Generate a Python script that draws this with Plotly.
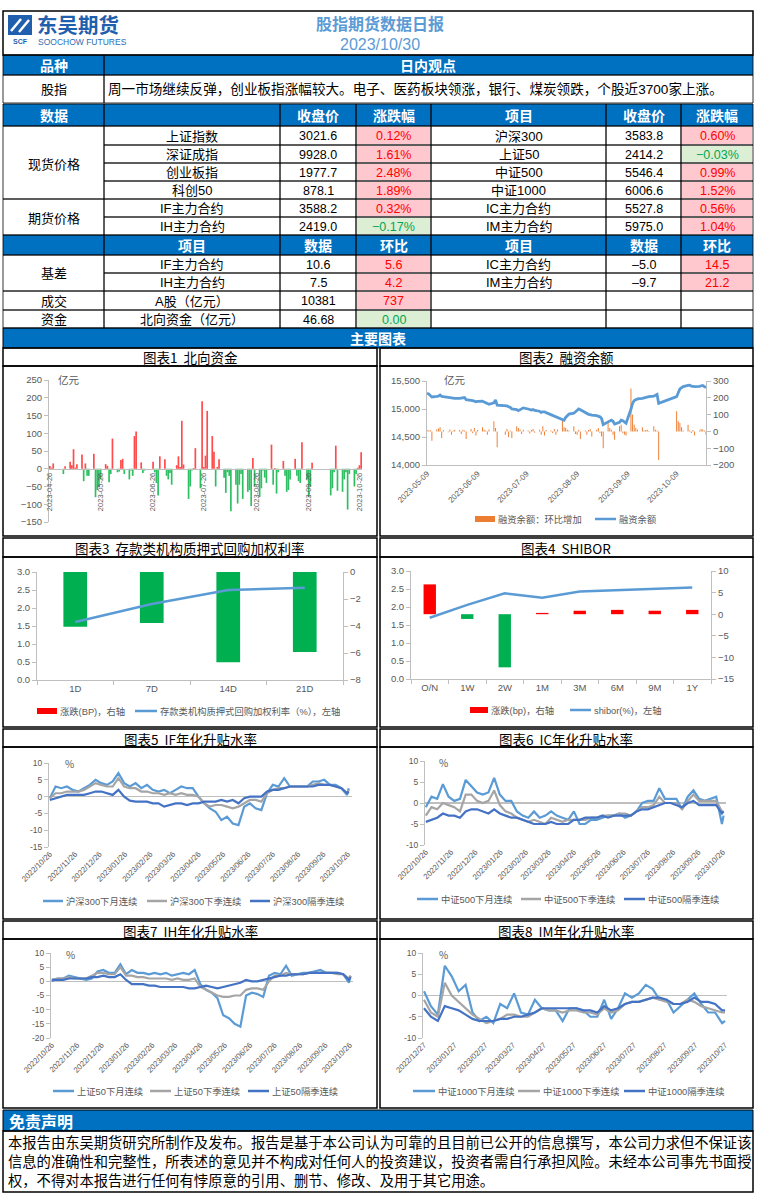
import plotly.graph_objects as go
import pandas as pd

# ======================= DATA =======================
report_title = "股指期货数据日报"
report_date = "2023/10/30"
company_cn = "东吴期货"
company_en = "SOOCHOW FUTURES"
view_label = "股指"
view_text = "周一市场继续反弹，创业板指涨幅较大。电子、医药板块领涨，银行、煤炭领跌，个股近3700家上涨。"

hdr1_labels = ["数据", "", "收盘价", "涨跌幅", "项目", "收盘价", "涨跌幅"]
hdr2_labels = ["", "项目", "数据", "环比", "项目", "数据", "环比"]

price_groups = ["现货价格", "期货价格"]
price_left_names = ["上证指数", "深证成指", "创业板指", "科创50", "IF主力合约", "IH主力合约"]
price_left_close = ["3021.6", "9928.0", "1977.7", "878.1", "3588.2", "2419.0"]
price_left_chg = ["0.12%", "1.61%", "2.48%", "1.89%", "0.32%", "−0.17%"]
price_right_names = ["沪深300", "上证50", "中证500", "中证1000", "IC主力合约", "IM主力合约"]
price_right_close = ["3583.8", "2414.2", "5546.4", "6006.6", "5527.8", "5975.0"]
price_right_chg = ["0.60%", "−0.03%", "0.99%", "1.52%", "0.56%", "1.04%"]

basis_group = "基差"
basis_left_names = ["IF主力合约", "IH主力合约"]
basis_left_val = ["10.6", "7.5"]
basis_left_chg = ["5.6", "4.2"]
basis_right_names = ["IC主力合约", "IM主力合约"]
basis_right_val = ["–5.0", "–9.7"]
basis_right_chg = ["14.5", "21.2"]

misc_groups = ["成交", "资金"]
misc_names = ["A股（亿元）", "北向资金（亿元）"]
misc_val = ["10381", "46.68"]
misc_chg = ["737", "0.00"]

chart_titles = ["图表1  北向资金", "图表2  融资余额", "图表3  存款类机构质押式回购加权利率", "图表4  SHIBOR",
                "图表5  IF年化升贴水率", "图表6  IC年化升贴水率", "图表7  IH年化升贴水率", "图表8  IM年化升贴水率"]

# Chart 1: northbound flow (亿元), one value per business day 2023-04-26 .. 2023-10-27 (None = closed)
nb_flow = [
    8, 3, 15,
    None, None, None, -15, 7,
    20, 10, 55, 3, 13,
    40, -35, 15, -20, -20,
    42, -80, -60, -50, -30,
    13, 8, -38, -15, 85,
    -10, -8, 25, 28, -15,
    -30, -5, -20, 92, 105,
    18, -12, -5, None, None,
    20, -10, -40, -75, 35,
    27, -20, -30, -12, -45,
    10, 35, 5, 135, 12,
    -85, -50, -5, 2, 58,
    -55, 190, 5, 37, 163,
    92, 48, -50, 5, 27,
    -25, -68, -10, -20, -120,
    -45, -98, -45, -15, -85,
    -65, -60, -105, 30, -50,
    -80, -55, -5, -25, -40,
    68, -45, 2, -70, -10,
    22, -20, -65, -60, -30,
    28, -20, -35, -40, 75,
    -30, -80, -50, 17, None,
    None, None, None, None, None,
    -75, -55, -10, 65, -62,
    -65, -30, -10, -115, -15,
    -50, -15, 3, 10, 46.68,
]
nb_ticks = ["2023-04-26", "2023-05-26", "2023-06-26", "2023-07-26", "2023-08-26", "2023-09-26", "2023-10-26"]

# Chart 2: margin balance, business days 2023-05-08 .. 2023-10-27
margin_change = [
    None, 10, 5, 8, -55,
    12, 18, 25, -40, 8,
    -5, 12, -20, 5, 10,
    8, -15, 10, 5, -45,
    15, -10, 20, -25, 8,
    25, 10, 5, -20, 12,
    60, 20, -95, None, None,
    -20, 15, -35, 5, -40,
    30, 20, 12, -15, 10,
    5, -12, 8, 15, -8,
    10, -20, 30, -25, 8,
    5, -10, 15, -20, 12,
    65, 25, 20, 10, 5,
    30, -15, -20, 10, -45,
    5, -20, 8, 15, -30,
    10, 20, -10, -30, -100,
    50, 20, 10, -20, -50,
    30, 40, -10, -20, -25,
    255, 100, 40, 20, 10,
    25, 5, 8, 10, 3,
    30, 10, 5, -170, None,
    None, None, None, None, None,
    120, 60, 50, 25, 5,
    40, 5, -10, 8, -25,
    5, 15, 12, 5, -20,
]
margin_balance = [
    None, 15280, 15270, 15240, 15215,
    15225, 15230, 15250, 15225, 15220,
    15205, 15195, 15190, 15195, 15190,
    15190, 15195, 15200, 15205, 15165,
    15160, 15150, 15140, 15130, 15135,
    15140, 15125, 15110, 15095, 15085,
    15110, 15160, 15070, None, None,
    15060, 15055, 15040, 15030, 15000,
    14990, 14970, 14990, 15010, 15020,
    15000, 14990, 14980, 14990, 14975,
    14960, 14940, 14950, 14950, 14935,
    14900, 14880, 14870, 14860, 14845,
    14820, 14800, 14850, 14890, 14910,
    14925, 14950, 14990, 15000, 14985,
    14930, 14910, 14905, 14900, 14890,
    14880, 14865, 14860, 14830, 14720,
    14770, 14790, 14800, 14780, 14730,
    14760, 14800, 14790, 14770, 14745,
    14995, 15100, 15150, 15170, 15180,
    15190, 15200, 15210, 15215, 15220,
    15230, 15240, 15260, 15100, None,
    None, None, None, None, None,
    15220, 15290, 15360, 15380, 15400,
    15420, 15425, 15410, 15400, 15400,
    15405, 15410, 15420, 15400, 15380,
]
margin_ticks = ["2023-05-09", "2023-06-09", "2023-07-09", "2023-08-09", "2023-09-09", "2023-10-09"]
margin_names = ["融资余额：环比增加", "融资余额"]

# Chart 3: repo
repo_terms = ["1D", "7D", "14D", "21D"]
repo_rate = [1.61, 2.11, 2.50, 2.56]
repo_chg_bp = [-4.06, -3.77, -6.68, -5.93]
repo_names = ["涨跌(BP)，右轴", "存款类机构质押式回购加权利率（%），左轴"]

# Chart 4: SHIBOR
shibor_terms = ["O/N", "1W", "2W", "1M", "3M", "6M", "9M", "1Y"]
shibor_rate = [1.70, 2.06, 2.38, 2.26, 2.43, 2.47, 2.52, 2.54]
shibor_chg_bp = [6.9, -1.1, -12.3, 0.3, 0.8, 1.0, 0.8, 1.0]
shibor_names = ["涨跌(bp)，右轴", "shibor(%)，左轴"]

# Charts 5-7: weekly samples from 2022-10-26 (+ 2023-10-27); chart 8 from 2022-12-27
basis_ticks_a = ["2022/10/26", "2022/11/26", "2022/12/26", "2023/01/26", "2023/02/26", "2023/03/26", "2023/04/26",
                 "2023/05/26", "2023/06/26", "2023/07/26", "2023/08/26", "2023/09/26", "2023/10/26"]
basis_ticks_m = ["2022/12/27", "2023/01/27", "2023/02/27", "2023/03/27", "2023/04/27", "2023/05/27", "2023/06/27",
                 "2023/07/27", "2023/08/27", "2023/09/27", "2023/10/27"]

if_names = ["沪深300下月连续", "沪深300下季连续", "沪深300隔季连续"]
if_m = [-0.5, 3, 2.5, 3, 2, 1.5, 2.5, 3.5, 5, 4,
        3.5, 4.5, 7, 4, 3, 4, 2.5, 3.5, 2, 1.5,
        2, 1, 2, 3, 2.5, 2.5, 0, -2, -3.5, -4.5,
        -7, -6, -8, -8.5, -3, -2, -3.5, -4, 1, 3.5,
        3, 5.5, 3, 3, 3, 3, 4.5, 4.5, 5, 3.5,
        3.5, 2.5, 0.5, 2.5]
if_q = [-0.5, 1, 1, 1.5, 1.5, 1.5, 2, 3, 4, 3.5,
        3, 3, 5.5, 3, 2.5, 2.5, 1.5, 1.5, 1, 1,
        0.5, 1, 0.5, 1, 0.5, 0.5, 0, -2, -3, -2.5,
        -2.5, -3, -3.5, -3, -2, -1, -1, -1.5, 1, 2,
        2.5, 2.5, 3, 3, 3, 3, 3.5, 4, 3.5, 3.5,
        3, 2.5, 1, 2]
if_s = [-1, -0.5, 0, 0.5, 0.5, 0.5, 0.5, 1, 1.5, 1.5,
        1, 0.5, 2, 0, -1.2, -1.5, -1.5, -1.5, -2, -2,
        -3, -2.5, -2, -2, -2.5, -2, -2, -1.5, -1.5, -1.5,
        -1, -1.5, -1, -2, -0.5, 0, 0, 0, 1.5, 2,
        2, 2.5, 3, 3, 3, 3, 3, 3.5, 3.5, 3.5,
        3, 2.5, 1, 1.5]

ic_names = ["中证500下月连续", "中证500下季连续", "中证500隔季连续"]
ic_m = [-1, 1.5, 1, 4.5, 1.5, 0.5, 1, 5.5, 4, 2.5,
        2, 2.5, 6, 2, 0.5, 0.5, -2, -3, -3.5, -2,
        -3.5, -3, -2, -3, -3.5, -4, -2, -5, -5, -4,
        -4, -3.5, -3, -3, -2.5, -3.5, -3, -2, 0, 0.5,
        0.5, 3.5, 1, 1, 1, -1.5, 1.5, 3, 1, 0.5,
        1, 1.5, -5, -3]
ic_q = [-3, -1, -1.5, 0, -0.5, -1, -2, 2, 2, 0.5,
        0, 0.5, 3, -0.5, -2, -2.5, -3.5, -4, -4.5, -4,
        -4.5, -5, -3.5, -4, -4.5, -4, -4, -4, -4, -3.5,
        -3.5, -3, -3, -3, -2.5, -2.5, -3, -2, -1, -1,
        -0.5, 1.5, 0, 0, 0, -1.5, 0.5, 2, 0.5, 0.5,
        0.5, 0.5, -2, -2]
ic_s = [-4.5, -4, -3.5, -2.5, -3, -3, -3.5, -2, -1.5, -1.5,
        -2, -2.5, -1.5, -2.5, -3, -3.5, -3.5, -4, -4.5, -5,
        -5, -5, -4.5, -5, -5, -5, -4, -4, -3.5, -3.5,
        -3.5, -3, -3.5, -3, -3, -3, -3, -2, -1.5, -1.5,
        -1, -0.5, 0, 0, -0.5, -1, 0, 0.5, -0.5, -0.5,
        -0.5, -0.5, -2.5, -2]

ih_names = ["上证50下月连续", "上证50下季连续", "上证50隔季连续"]
ih_m = [0, 1, 1, 2, 1.5, 1, 0.5, 1, 3.5, 4,
        3, 3, 6, 2.5, 4, 3, 3, 2.5, 3, 2.5,
        3, 2, 2.5, 3, 2.5, 4, -1, -3, -4, -6,
        -12, -13, -15, -16, -5, -4, -4.5, -5.5, 2, 3,
        2.5, 5.5, 2, 2.5, 3, 3, 3.5, 4, 3, 3,
        3, 2.5, -0.5, 2]
ih_q = [0.5, 1, 1, 1.5, 1, 1, 1, 2, 3, 3,
        2.5, 2.5, 5, 2, 2, 1.5, 1.5, 1, 1, 1,
        1, 0.5, 1, 0.5, 0.5, 1, -2, -3, -4, -5,
        -5.5, -5.5, -5, -5, -3, -2.5, -2.5, -3, 0, 2,
        2, 3, 2.5, 2.5, 2.5, 3, 3, 3, 3, 3,
        2.5, 2.5, 1, 2]
ih_s = [0.5, 0.5, 0.5, 1, 1, 1, 1, 1.5, 1.5, 2,
        1.5, 1.5, 2.5, 0.5, -1, -1, -1, -1.5, -1.5, -2,
        -2, -2, -2, -2, -2.5, -2.5, -2, -1.5, -2, -2.5,
        -2, -1.5, -1, -0.5, 0.5, 0, 0, 0.5, 1, 1.5,
        2, 2, 2.5, 2.5, 2.5, 3, 3, 3, 3, 3,
        3, 2.5, 0.5, 1.5]

im_names = ["中证1000下月连续", "中证1000下季连续", "中证1000隔季连续"]
im_m = [1, -2.5, -4.5, 7, 4.5, 1, 2.5, -4, -6, -5,
        -6.5, -2, -3, 0.5, -4, -4.5, -1, -3, -3.5, -3.5,
        -6, -3, -3, -3.5, -5, -5, -1, -5.5, -3, 0.5,
        -0.5, 0.5, 2.5, 1.5, -1, -1, -4, -2.5, -1, 0.5,
        -2, -4, -4, -6.5, -6]
im_q = [-1, -4, -5, 3, 0, -1.5, -3, -4.5, -5.5, -6.5,
        -6, -5.5, -4.5, -4.5, -5, -5, -4, -3, -3.5, -3.5,
        -4, -3.5, -3.5, -4, -4, -4.5, -3, -4, -3.5, -2,
        -1.5, -1.5, -1, -0.5, -1, -1.5, -2, -2, -1, -1.5,
        -2.5, -3, -3.5, -4, -4]
im_s = [-3, -5, -6, -2.5, -3, -3.5, -4.5, -5.5, -6, -6,
        -6, -5.5, -5.5, -5, -5, -4.5, -4, -3, -3, -3,
        -3, -3, -3, -3.5, -3.5, -4, -2.5, -3.5, -3, -2,
        -1.5, -1.5, -1, -0.5, -0.5, -1, -2, -2, -1.5, -0.5,
        -1.5, -1.5, -2, -3.5, -3.5]

disclaimer_title = "免责声明"
disclaimer_lines = [
    "本报告由东吴期货研究所制作及发布。报告是基于本公司认为可靠的且目前已公开的信息撰写，本公司力求但不保证该",
    "信息的准确性和完整性，所表述的意见并不构成对任何人的投资建议，投资者需自行承担风险。未经本公司事先书面授",
    "权，不得对本报告进行任何有悖原意的引用、删节、修改、及用于其它用途。",
]

# ======================= HELPERS =======================
W, H = 757, 1195
def X(px): return px / W
def Y(py): return 1 - py / H

CJK = "Noto Sans CJK SC"
LAT = "Liberation Sans, Arial, Noto Sans CJK SC"
NUM = "Liberation Sans Narrow, Liberation Sans, Arial"
HDR_BLUE = "#0070C0"
PINK = "#FFC7CE"
LGREEN = "#DCEFD5"
RED_T = "#FF0000"
GREEN_T = "#00A651"
AXC = "#BFBFBF"
TICKC = "#595959"
C_LB = "#5B9BD5"
C_GR = "#A5A5A5"
C_DB = "#4472C4"
C_OR = "#ED7D31"
BAR_RED = "#FF0000"
BAR_GREEN = "#00B050"

shapes, anns = [], []

def rect(x0, y0, x1, y1, fill=None, lc="black", lw=1.0, layer="below"):
    shapes.append(dict(type="rect", xref="paper", yref="paper", x0=X(x0), x1=X(x1), y0=Y(y1), y1=Y(y0),
                       fillcolor=fill if fill else "rgba(0,0,0,0)",
                       line=dict(color=lc, width=lw), layer=layer))

def seg(x0, y0, x1, y1, color, width):
    shapes.append(dict(type="line", xref="paper", yref="paper", x0=X(x0), x1=X(x1), y0=Y(y0), y1=Y(y1),
                       line=dict(color=color, width=width), layer="above"))

def txt(x, y, s, size=12.5, color="black", family=CJK, xa="center", ya="middle"):
    anns.append(dict(xref="paper", yref="paper", x=X(x), y=Y(y),
                     text=s, showarrow=False, xanchor=xa, yanchor=ya, borderpad=0,
                     font=dict(size=size, color=color, family=family)))

C = [3, 104, 280, 356, 431, 606, 681, 753]
def ctr(i): return (C[i] + C[i + 1]) / 2

def sign_style(s):
    v = float(s.replace("−", "-").replace("–", "-").replace("%", ""))
    return (PINK, RED_T) if v > 0 else (LGREEN, GREEN_T)

def cell(i, y0, y1, s, colored=False, family=NUM, size=12.5):
    tc = "black"
    if colored:
        f, tc = sign_style(s)
        rect(C[i] + 1, y0 + 1, C[i + 1] - 1, y1 - 1, fill=f, lw=0)
    rect(C[i], y0, C[i + 1], y1, lw=0.8, layer="above")
    if s:
        txt(ctr(i), (y0 + y1) / 2 + 0.5, s, size=size, color=tc, family=family)

def blue_row(y0, y1, labels):
    rect(3, y0, 753, y1, fill=HDR_BLUE, lw=0)
    for i in range(7):
        rect(C[i], y0, C[i + 1], y1, lw=0.8, layer="above")
        if labels[i]:
            txt(ctr(i), (y0 + y1) / 2, "<b>" + labels[i] + "</b>", size=14, color="white")

# ======================= HEADER & TABLE =======================
rect(3, 11, 753, 55, lw=1.5, layer="above")
# logo
rect(8, 15, 32, 35, fill="#1F5FAD", lw=0)
seg(11, 31, 21, 19, "white", 2.5)
seg(19, 32, 29, 20, "white", 2.5)
txt(20, 41.5, "<b>SCF</b>", size=7, color="#1F5FAD", family=LAT)
txt(36, 24, "<b>" + company_cn + "</b>", size=20.5, color="#1F5FAD", family=CJK, xa="left")
txt(37, 41.5, company_en, size=8.5, color="#2E6DB4", family=NUM, xa="left")
txt(380, 23, "<b>" + report_title + "</b>", size=16, color="#5B9BD5", family=CJK)
txt(380, 44, report_date, size=16, color="#5B9BD5", family=LAT)

# 品种 / 日内观点
rect(3, 55, 753, 75, fill=HDR_BLUE, lw=0)
rect(3, 55, 104, 75, lw=0.8, layer="above")
rect(104, 55, 753, 75, lw=0.8, layer="above")
txt(53.5, 65, "<b>品种</b>", size=14, color="white")
txt(428, 65, "<b>日内观点</b>", size=14, color="white")
rect(3, 75, 104, 103, lw=0.8, layer="above")
rect(104, 75, 753, 103, lw=0.8, layer="above")
txt(53.5, 89, view_label, size=13)
txt(107, 89, view_text, size=13.6, xa="left", family=LAT)

# price block
blue_row(104, 126, hdr1_labels)
rows_y = [126, 145, 163, 181, 199, 217, 235]
for r in range(6):
    y0, y1 = rows_y[r], rows_y[r + 1]
    cell(1, y0, y1, price_left_names[r], family=LAT, size=13)
    cell(2, y0, y1, price_left_close[r])
    cell(3, y0, y1, price_left_chg[r], colored=True)
    cell(4, y0, y1, price_right_names[r], family=LAT, size=13)
    cell(5, y0, y1, price_right_close[r])
    cell(6, y0, y1, price_right_chg[r], colored=True)
rect(3, 126, 104, 199, lw=0.8, layer="above")
txt(53.5, 163, price_groups[0], size=13)
rect(3, 199, 104, 235, lw=0.8, layer="above")
txt(53.5, 217, price_groups[1], size=13)

# basis block
blue_row(235, 255, hdr2_labels)
brows = [255, 273, 291]
for r in range(2):
    y0, y1 = brows[r], brows[r + 1]
    cell(1, y0, y1, basis_left_names[r], family=LAT, size=13)
    cell(2, y0, y1, basis_left_val[r])
    cell(3, y0, y1, basis_left_chg[r], colored=True)
    cell(4, y0, y1, basis_right_names[r], family=LAT, size=13)
    cell(5, y0, y1, basis_right_val[r])
    cell(6, y0, y1, basis_right_chg[r], colored=True)
rect(3, 255, 104, 291, lw=0.8, layer="above")
txt(53.5, 273, basis_group, size=13)

mrows = [291, 310, 328]
for r in range(2):
    y0, y1 = mrows[r], mrows[r + 1]
    cell(0, y0, y1, misc_groups[r], family=LAT, size=13)
    cell(1, y0, y1, misc_names[r], family=LAT, size=13)
    cell(2, y0, y1, misc_val[r])
    cell(3, y0, y1, misc_chg[r], colored=True)
    cell(4, y0, y1, "")
    cell(5, y0, y1, "")
    cell(6, y0, y1, "")

rect(3, 328, 753, 348, fill=HDR_BLUE, lc="black", lw=1)
txt(378, 338, "<b>主要图表</b>", size=14, color="white")

# chart frames
title_rows = [(348, 366), (538, 557), (729, 747), (921, 939)]
chart_rows = [(366, 536), (557, 727), (747, 919), (939, 1108)]
for k in range(4):
    t0, t1 = title_rows[k]
    c0, c1 = chart_rows[k]
    rect(3, t0, 377, t1, lw=1.5, layer="above")
    rect(380, t0, 753, t1, lw=1.5, layer="above")
    rect(3, c0, 377, c1, lw=1.5, layer="above")
    rect(380, c0, 753, c1, lw=1.5, layer="above")
    txt(190, (t0 + t1) / 2 + 0.5, chart_titles[2 * k], size=13.5)
    txt(566, (t0 + t1) / 2 + 0.5, chart_titles[2 * k + 1], size=13.5)

# disclaimer
rect(3, 1110, 753, 1131, fill=HDR_BLUE, lw=1)
txt(8, 1121, "<b>" + disclaimer_title + "</b>", size=16, color="white", xa="left")
rect(3, 1131, 753, 1192, lw=1.5, layer="above")
for i, line in enumerate(disclaimer_lines):
    txt(7, 1141.5 + 18.8 * i, line, size=14.3, xa="left")

# ======================= CHARTS =======================
fig = go.Figure()
TF = dict(size=9.5, color=TICKC, family=LAT)

def ax(**kw):
    d = dict(showgrid=False, zeroline=False, showline=True, linecolor=AXC, linewidth=1, ticks="outside",
             ticklen=4, tickcolor=AXC, tickfont=TF, fixedrange=True, automargin=False)
    d.update(kw)
    return d

def legend_item(kind, x0, x1, y, color, label):
    if kind == "bar":
        rect(x0, y - 3, x1, y + 3, fill=color, lw=0, layer="above")
    else:
        seg(x0, y, x1, y, color, 2.5)
    txt(x1 + 2, y, label, size=9.3, color=TICKC, family=LAT, xa="left")

layout_axes = {}

# ---- Chart 1: northbound flows ----
nb_dates = pd.bdate_range("2023-04-26", "2023-10-27")
nb_colors = [("#FF4B4B" if (v is not None and v > 0) else "#2FBF63") for v in nb_flow]
fig.add_trace(go.Bar(x=nb_dates, y=nb_flow, marker=dict(color=nb_colors, line=dict(width=0)),
                     width=86400000 * 1.0, xaxis="x", yaxis="y", showlegend=False))
y1_lo, y1_hi = Y(522), Y(380)
zero_pos = y1_lo + (0 - (-150)) / (250 - (-150)) * (y1_hi - y1_lo)
layout_axes["xaxis"] = ax(domain=[X(49), X(362)], type="date", range=["2023-04-25 12:00", "2023-10-27 12:00"],
                          anchor="free", position=zero_pos, ticks="",
                          tickvals=pd.to_datetime(nb_ticks), ticktext=nb_ticks, tickangle=-90,
                          tickfont=dict(size=7.5, color=TICKC, family=LAT))
layout_axes["yaxis"] = ax(domain=[y1_lo, y1_hi], range=[-150, 250], dtick=50, tick0=0, anchor="x")
txt(57, 380, "亿元", size=10.5, color=TICKC, xa="left")

# ---- Chart 2: margin balance ----
mg_dates = pd.bdate_range("2023-05-08", "2023-10-27")
fig.add_trace(go.Bar(x=mg_dates, y=margin_change, marker=dict(color=C_OR, line=dict(width=0)),
                     width=86400000 * 0.6, xaxis="x2", yaxis="y2", showlegend=False))
fig.add_trace(go.Scatter(x=mg_dates, y=margin_balance, mode="lines", line=dict(color=C_LB, width=2.8),
                         connectgaps=True, xaxis="x2", yaxis="y3", showlegend=False))
layout_axes["xaxis2"] = ax(domain=[X(427), X(706)], type="date", range=["2023-05-09", "2023-10-27"], anchor="y2",
                           tickvals=pd.to_datetime(margin_ticks), ticktext=margin_ticks, tickangle=-45, ticks="",
                           tickfont=dict(size=8, color=TICKC, family=LAT))
layout_axes["yaxis2"] = ax(domain=[Y(465), Y(381)], range=[-200, 300], dtick=100, side="right", anchor="x2")
layout_axes["yaxis3"] = ax(range=[14000, 15500], dtick=500, tickformat=",", side="left", anchor="x2",
                           overlaying="y2")
txt(443, 380, "亿元", size=10.5, color=TICKC, xa="left")
legend_item("bar", 475, 495, 519, C_OR, margin_names[0])
legend_item("line", 595, 616, 519, C_LB, margin_names[1])

# ---- Chart 3: repo ----
fig.add_trace(go.Bar(x=repo_terms, y=repo_chg_bp,
                     marker=dict(color=[BAR_RED if v > 0 else BAR_GREEN for v in repo_chg_bp], line=dict(width=0)),
                     width=0.31, xaxis="x3", yaxis="y4", showlegend=False))
fig.add_trace(go.Scatter(x=repo_terms, y=repo_rate, mode="lines", line=dict(color=C_LB, width=2.5),
                         xaxis="x3", yaxis="y5", showlegend=False))
layout_axes["xaxis3"] = ax(domain=[X(37), X(343)], type="category", range=[-0.5, 3.5], anchor="y4",
                           tickson="boundaries", ticklen=4, tickfont=dict(size=9.5, color=TICKC, family=LAT))
layout_axes["yaxis4"] = ax(domain=[Y(680), Y(572)], range=[-8, 0], dtick=2, side="right", anchor="x3")
layout_axes["yaxis5"] = ax(range=[0, 3], dtick=0.5, tickformat=".1f", side="left", anchor="x3", overlaying="y4")
legend_item("bar", 37, 57, 711, BAR_RED, repo_names[0])
legend_item("line", 135, 157, 711, C_LB, repo_names[1])

# ---- Chart 4: SHIBOR ----
fig.add_trace(go.Bar(x=shibor_terms, y=shibor_chg_bp,
                     marker=dict(color=[BAR_RED if v > 0 else BAR_GREEN for v in shibor_chg_bp], line=dict(width=0)),
                     width=0.33, xaxis="x4", yaxis="y6", showlegend=False))
fig.add_trace(go.Scatter(x=shibor_terms, y=shibor_rate, mode="lines", line=dict(color=C_LB, width=2.5),
                         xaxis="x4", yaxis="y7", showlegend=False))
layout_axes["xaxis4"] = ax(domain=[X(411), X(711)], type="category", range=[-0.5, 7.5], anchor="y6",
                           tickson="boundaries", ticklen=4)
layout_axes["yaxis6"] = ax(domain=[Y(679), Y(571)], range=[-15, 10], dtick=5, side="right", anchor="x4")
layout_axes["yaxis7"] = ax(range=[0, 3], dtick=0.5, tickformat=".1f", side="left", anchor="x4", overlaying="y6")
legend_item("bar", 470, 488, 710, BAR_RED, shibor_names[0])
legend_item("line", 570, 591, 710, C_LB, shibor_names[1])

# ---- Charts 5-8: annualized basis ----
ann_dates = list(pd.date_range("2022-10-26", periods=53, freq="7D")) + [pd.Timestamp("2023-10-27")]
im_dates = list(pd.date_range("2022-12-27", periods=44, freq="7D")) + [pd.Timestamp("2023-10-27")]

basis_specs = [
    ("x5", "y8", ann_dates, (if_m, if_q, if_s), if_names, (49, 352), ["2022-10-25", "2023-10-31"], (847, 763),
     (-15, 10), basis_ticks_a, (64, 763), 901, [(43, 63), (147, 167), (250, 270)]),
    ("x6", "y9", ann_dates, (ic_m, ic_q, ic_s), ic_names, (425, 726), ["2022-10-25", "2023-10-30"], (845, 761),
     (-10, 10), basis_ticks_a, (438, 762), 899, [(417, 438), (521, 541), (624, 645)]),
    ("x7", "y10", ann_dates, (ih_m, ih_q, ih_s), ih_names, (51, 353), ["2022-10-25", "2023-10-30"], (1038, 953),
     (-20, 10), basis_ticks_a, (65, 954), 1091, [(53, 74), (150, 171), (248, 269)]),
    ("x8", "y11", im_dates, (im_m, im_q, im_s), im_names, (423, 727), ["2022-12-26", "2023-10-29"], (1038, 953),
     (-10, 10), basis_ticks_m, (438, 954), 1091, [(413, 435), (518, 540), (624, 645)]),
]
colors3 = [C_LB, C_GR, C_DB]
for (xa_, ya_, dts, series, names, xd, xr, yd, yr, ticks, pct, legy, legx) in basis_specs:
    for s, c in zip(series, colors3):
        fig.add_trace(go.Scatter(x=dts, y=s, mode="lines", line=dict(color=c, width=2.2),
                                 xaxis=xa_, yaxis=ya_, showlegend=False))
    yvals = list(range(yr[0], yr[1] + 1, 5))
    layout_axes["xaxis" + xa_[1:]] = ax(domain=[X(xd[0]), X(xd[1])], type="date", range=xr, anchor=ya_,
                                        showline=False, ticks="",
                                        tickvals=pd.to_datetime([t.replace("/", "-") for t in ticks]),
                                        ticktext=ticks, tickangle=-45,
                                        tickfont=dict(size=7.8, color=TICKC, family=LAT))
    layout_axes["yaxis" + ya_[1:]] = ax(domain=[Y(yd[0]), Y(yd[1])], range=list(yr), tickvals=yvals,
                                        ticktext=[str(v) for v in yvals], anchor=xa_,
                                        zeroline=True, zerolinecolor=AXC, zerolinewidth=1.5,
                                        tickfont=dict(size=8.5, color=TICKC, family=LAT))
    txt(pct[0], pct[1], "%", size=10, color=TICKC, xa="left")
    for (lx0, lx1), c, n in zip(legx, colors3, names):
        legend_item("line", lx0, lx1, legy, c, n)

fig.update_layout(
    width=W, height=H, margin=dict(l=0, r=0, t=0, b=0, autoexpand=False),
    paper_bgcolor="white", plot_bgcolor="rgba(0,0,0,0)",
    showlegend=False, shapes=shapes, annotations=anns,
    font=dict(family=LAT, color=TICKC),
    **layout_axes,
)

fig.write_html("out.html", post_script="document.body.style.margin='0';",
               config={"displayModeBar": False, "staticPlot": True})
